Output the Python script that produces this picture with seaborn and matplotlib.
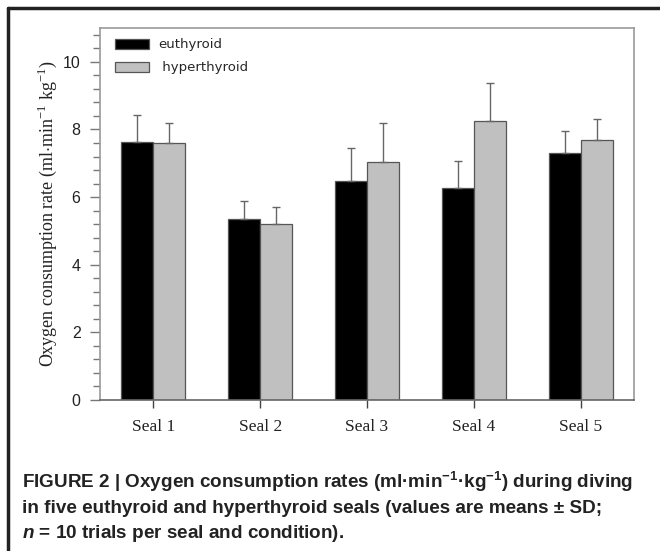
import numpy as np
import pandas as pd
import seaborn as sns
import matplotlib.pyplot as plt
from matplotlib.lines import Line2D
from matplotlib.ticker import MultipleLocator

# Werte (Mittelwert und SD)
seals = ["Seal 1", "Seal 2", "Seal 3", "Seal 4", "Seal 5"]
conditions = ["euthyroid", "hyperthyroid"]
legend_labels = ["euthyroid", " hyperthyroid"]
eu_mean = [7.64, 5.36, 6.49, 6.26, 7.29]
eu_sd = [0.78, 0.53, 0.96, 0.82, 0.65]
hyper_mean = [7.59, 5.21, 7.04, 8.24, 7.68]
hyper_sd = [0.59, 0.51, 1.16, 1.13, 0.64]
y_ticks = [0, 2, 4, 6, 8, 10]

df = pd.DataFrame({
    "seal": seals * 2,
    "condition": [conditions[0]] * len(seals) + [conditions[1]] * len(seals),
    "rate": eu_mean + hyper_mean,
})

sns.set_style("ticks")
plt.rcParams["mathtext.fontset"] = "custom"
plt.rcParams["mathtext.rm"] = "Liberation Serif"
plt.rcParams["mathtext.it"] = "Liberation Sans:bold:italic"
plt.rcParams["mathtext.bf"] = "Liberation Sans:bold"

fig = plt.figure(figsize=(6.6, 5.51), dpi=100)
ax = fig.add_axes([100 / 660, 151 / 551, 534 / 660, 372 / 551])

sns.barplot(data=df, x="seal", y="rate", hue="condition", order=seals,
            hue_order=conditions, palette=["#000000", "#c0c0c0"],
            saturation=1, width=0.6, gap=0, errorbar=None,
            edgecolor="#555555", linewidth=0.9, ax=ax)

# nur obere Fehlerbalken
for cont, sds in zip(ax.containers, [eu_sd, hyper_sd]):
    for bar, sd in zip(cont, sds):
        xc = bar.get_x() + bar.get_width() / 2
        h = bar.get_height()
        ax.errorbar(xc, h, yerr=[[0], [sd]], fmt="none", ecolor="#666666",
                    elinewidth=1.0, capsize=2.6, capthick=1.0, zorder=1)

ax.set_xlim(-0.5, 4.5)
ax.set_ylim(0, 11)
ax.set_yticks(y_ticks)
ax.yaxis.set_minor_locator(MultipleLocator(0.4))
ax.tick_params(axis="y", which="major", direction="out", length=7, width=1,
               color="#777777", pad=7)
ax.tick_params(axis="y", which="minor", direction="out", length=5, width=1,
               color="#777777")
ax.tick_params(axis="x", direction="out", length=6, width=1, color="#444444",
               pad=8)
for lab in ax.get_yticklabels():
    lab.set_family("Liberation Sans")
    lab.set_fontsize(11.5)
    lab.set_color("#222222")
for lab in ax.get_xticklabels():
    lab.set_family("Liberation Serif")
    lab.set_fontsize(12.5)
    lab.set_color("#222222")

for side in ["top", "right", "left"]:
    ax.spines[side].set_visible(True)
    ax.spines[side].set_color("#999999")
    ax.spines[side].set_linewidth(1.2)
ax.spines["bottom"].set_color("#666666")
ax.spines["bottom"].set_linewidth(1.2)

ax.set_xlabel("")
ax.set_ylabel("Oxygen consumption rate (ml$\\cdot$min$^{-1}$ kg$^{-1}$)",
              family="Liberation Serif", fontsize=13, color="#222222",
              labelpad=3)

handles, _ = ax.get_legend_handles_labels()
ax.legend(handles, legend_labels, loc="upper left",
          bbox_to_anchor=(0.028, 0.972), frameon=False, borderpad=0,
          borderaxespad=0, handlelength=2.55, handleheight=0.78,
          handletextpad=0.7, labelspacing=0.75,
          prop={"family": "DejaVu Sans", "size": 9.5})

# Rahmen links und oben
fig.add_artist(Line2D([8 / 660, 1], [1 - 8 / 551, 1 - 8 / 551],
                      transform=fig.transFigure, color="#222222", lw=2.5))
fig.add_artist(Line2D([8 / 660, 8 / 660], [0, 1 - 8 / 551],
                      transform=fig.transFigure, color="#222222", lw=2.5))

cap_font = ["Liberation Sans", "DejaVu Sans"]
caption = [
    "FIGURE 2 | Oxygen consumption rates (ml·min$^{\\mathbf{-1}}$·kg$^{\\mathbf{-1}}$) during diving",
    "in five euthyroid and hyperthyroid seals (values are means ± SD;",
    "$n$ = 10 trials per seal and condition).",
]
for i, line in enumerate(caption):
    fig.text(22 / 660, 1 - (488 + 25 * i) / 551, line, family=cap_font,
             fontweight="bold", fontsize=13.55, color="#222222",
             va="baseline", ha="left")

fig.savefig("out.png", dpi=100)
